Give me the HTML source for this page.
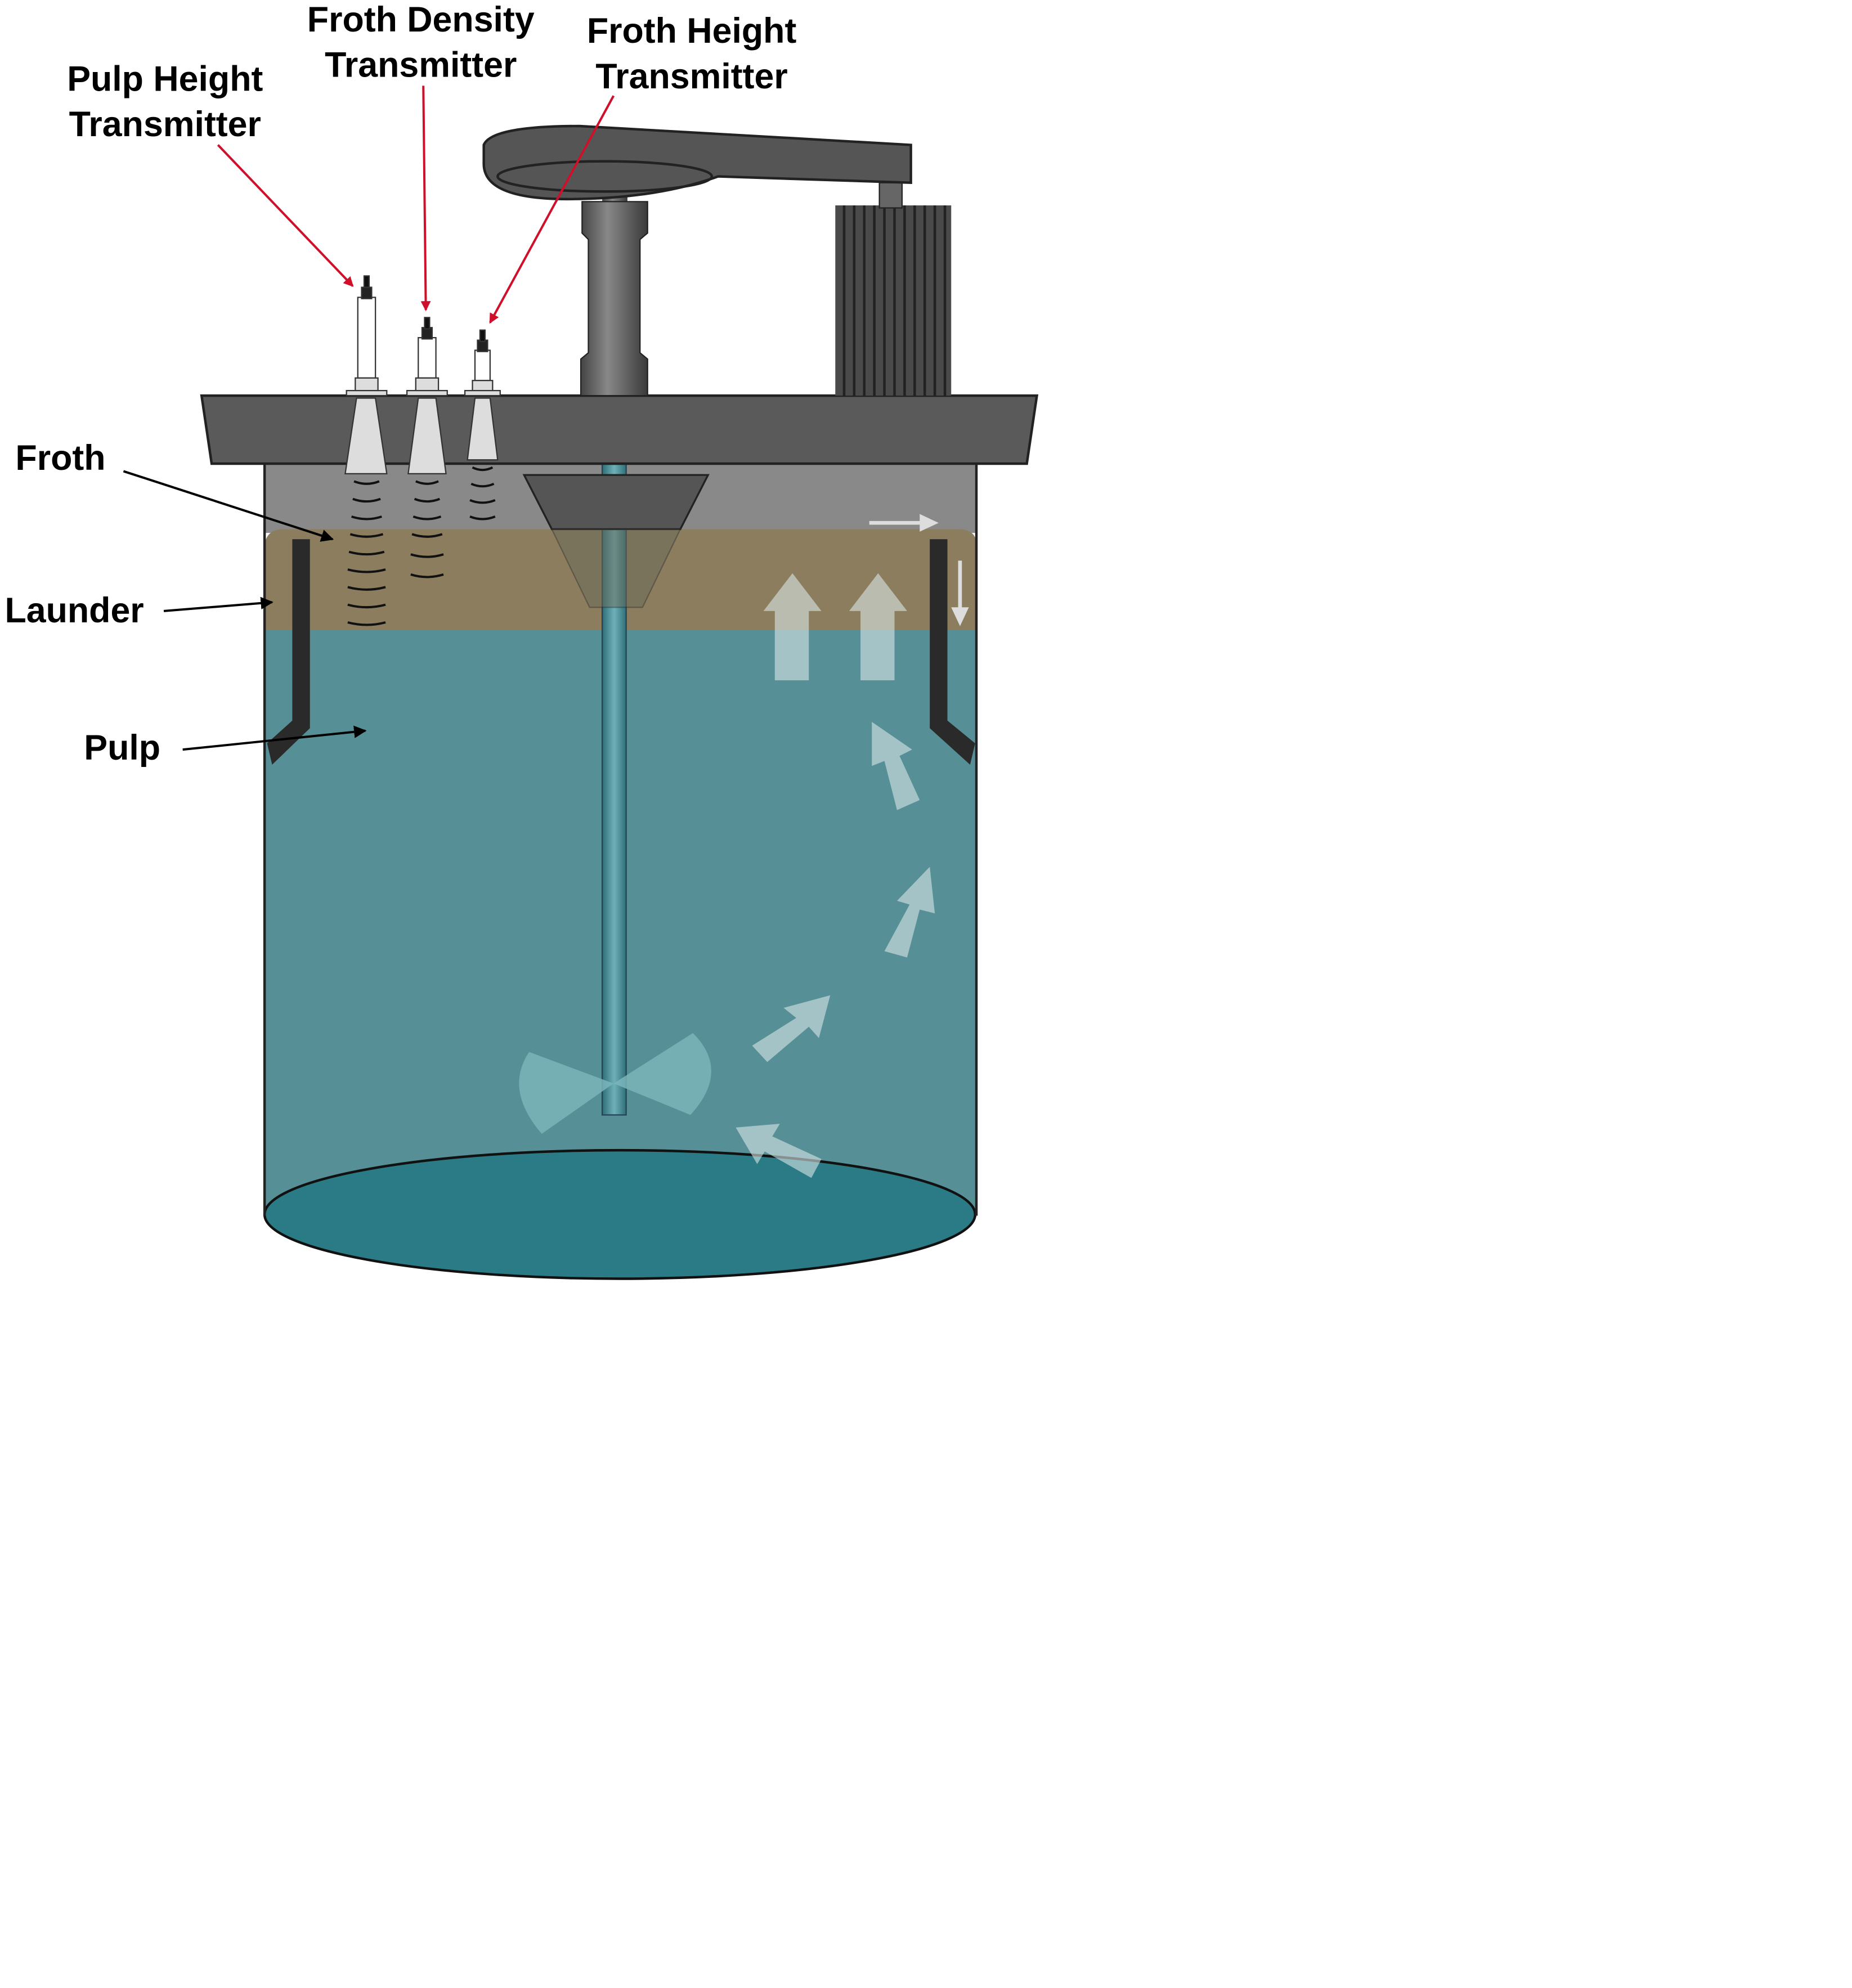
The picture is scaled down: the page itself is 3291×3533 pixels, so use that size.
<!DOCTYPE html>
<html><head><style>html,body{margin:0;padding:0;background:#fff}svg{display:block}</style></head><body>
<svg width="3291" height="3533" viewBox="0 0 1470 1578" xmlns="http://www.w3.org/2000/svg" font-family="Liberation Sans, sans-serif">
<defs>
<marker id="rh" markerWidth="8" markerHeight="8" refX="7" refY="4" orient="auto" markerUnits="userSpaceOnUse"><path d="M0,0 L8,4 L0,8 z" fill="#d0102a"/></marker>
<marker id="bh" markerWidth="10" markerHeight="10" refX="9" refY="5" orient="auto" markerUnits="userSpaceOnUse"><path d="M0,0 L10,5 L0,10 z" fill="#000"/></marker>
<linearGradient id="col" x1="0" x2="1"><stop offset="0" stop-color="#444"/><stop offset="0.4" stop-color="#888"/><stop offset="1" stop-color="#3a3a3a"/></linearGradient>
<linearGradient id="sh" x1="0" x2="1"><stop offset="0" stop-color="#2f6f78"/><stop offset="0.5" stop-color="#6fb0b8"/><stop offset="1" stop-color="#2f6f78"/></linearGradient>
</defs>
<rect x="210" y="368" width="565" height="55" fill="#898989"/>
<path d="M210,432 Q212,420 225,420 L760,420 Q775,420 775,432 L775,502 L210,502 Z" fill="#8b7d5e"/>
<rect x="210" y="500" width="565" height="466" fill="#568f96"/>
<ellipse cx="492" cy="964" rx="282" ry="51" fill="#2a7b85" stroke="#111" stroke-width="2"/>
<line x1="210" y1="368" x2="210" y2="965" stroke="#222" stroke-width="2"/>
<line x1="775" y1="368" x2="775" y2="965" stroke="#222" stroke-width="2"/>
<path d="M232,428 L246,428 L246,578 L216,607 L212,590 L232,572 Z" fill="#2a2a2a"/>
<path d="M752,428 L738,428 L738,578 L770,607 L774,590 L752,572 Z" fill="#2a2a2a"/>
<rect x="478" y="368" width="19" height="517" fill="url(#sh)" stroke="#245" stroke-width="1"/>
<polygon points="416,377 562,377 540,420 438,420" fill="#555" stroke="#222" stroke-width="1.5"/>
<polygon points="438,420 540,420 510,482 468,482" fill="#6a6a5a" opacity="0.5" stroke="#333" stroke-width="1"/>
<path d="M487,860 L420,835 Q400,865 430,900 Z" fill="#7ab5ba" opacity="0.85"/>
<path d="M487,860 L550,820 Q580,850 548,885 Z" fill="#7ab5ba" opacity="0.85"/>
<g fill="#d8e6e6" opacity="0.6">
<polygon points="615,540 642,540 642,485 652,485 629,455 606,485 615,485"/>
<polygon points="683,540 710,540 710,485 720,485 697,455 674,485 683,485"/>
<polygon points="712,643 730,635 714,600 724,595 692,573 692,608 702,604"/>
<polygon points="702,755 720,760 730,722 742,725 738,688 712,715 722,718"/>
<polygon points="597,830 609,843 642,815 650,824 659,790 622,800 632,808"/>
<polygon points="652,920 644,935 607,914 601,924 584,895 619,892 613,902"/>
</g>
<line x1="690" y1="415" x2="732" y2="415" stroke="#ddd" stroke-width="3"/><polygon points="730,408 745,415 730,422" fill="#ddd"/>
<line x1="762" y1="445" x2="762" y2="485" stroke="#ddd" stroke-width="3"/><polygon points="755,482 762,497 769,482" fill="#ddd"/>
<polygon points="160,314 823,314 815,368 168,368" fill="#5a5a5a" stroke="#222" stroke-width="2"/>
<rect x="663" y="163" width="92" height="151" fill="#4a4a4a"/>
<g stroke="#222" stroke-width="2"><line x1="670" y1="163" x2="670" y2="314"/><line x1="678" y1="163" x2="678" y2="314"/><line x1="686" y1="163" x2="686" y2="314"/><line x1="694" y1="163" x2="694" y2="314"/><line x1="702" y1="163" x2="702" y2="314"/><line x1="710" y1="163" x2="710" y2="314"/><line x1="718" y1="163" x2="718" y2="314"/><line x1="726" y1="163" x2="726" y2="314"/><line x1="734" y1="163" x2="734" y2="314"/><line x1="742" y1="163" x2="742" y2="314"/><line x1="750" y1="163" x2="750" y2="314"/></g>
<rect x="698" y="145" width="18" height="20" fill="#666" stroke="#222"/>
<rect x="478" y="140" width="20" height="20" fill="url(#col)"/>
<path d="M462,160 L514,160 L514,185 L508,190 L508,280 L514,285 L514,314 L461,314 L461,285 L467,280 L467,190 L462,185 Z" fill="url(#col)" stroke="#222" stroke-width="1"/>
<path d="M384,115 Q390,100 460,100 L723,115 L723,145 L570,140 Q520,158 450,158 Q384,158 384,130 Z" fill="#555" stroke="#222" stroke-width="2"/>
<ellipse cx="480" cy="140" rx="85" ry="12" fill="none" stroke="#222" stroke-width="2"/>
<g stroke="#333" stroke-width="1">
<polygon points="283,316 298,316 307,376 274,376" fill="#ddd"/>
<rect x="284" y="236" width="14" height="64" fill="#fff"/><rect x="282" y="300" width="18" height="10" fill="#ddd"/><rect x="275" y="310" width="32" height="4" fill="#ddd"/>
<rect x="287" y="228" width="8" height="9" fill="#222"/><rect x="289" y="219" width="4" height="9" fill="#111"/>
<polygon points="332,316 346,316 354,376 324,376" fill="#ddd"/>
<rect x="332" y="268" width="14" height="32" fill="#fff"/><rect x="330" y="300" width="18" height="10" fill="#ddd"/><rect x="323" y="310" width="32" height="4" fill="#ddd"/>
<rect x="335" y="260" width="8" height="9" fill="#222"/><rect x="337" y="252" width="4" height="9" fill="#111"/>
<polygon points="377,316 389,316 395,365 371,365" fill="#ddd"/>
<rect x="377" y="278" width="12" height="24" fill="#fff"/><rect x="375" y="302" width="16" height="8" fill="#ddd"/><rect x="369" y="310" width="28" height="4" fill="#ddd"/>
<rect x="379" y="270" width="8" height="9" fill="#222"/><rect x="381" y="262" width="4" height="9" fill="#111"/>
</g>
<g fill="none" stroke="#111" stroke-width="1.8">
<path d="M281,382 q10,4 20,0 M280,396 q11,4 22,0 M279,410 q12,4 24,0 M278,424 q13,4 26,0 M277,438 q14,4 28,0 M276,452 q15,4 30,0 M276,466 q15,4 30,0 M276,480 q15,4 30,0 M276,494 q15,4 30,0"/>
<path d="M330,382 q9,4 18,0 M329,396 q10,4 20,0 M328,410 q11,4 22,0 M327,424 q12,4 24,0 M326,440 q13,4 26,0 M326,456 q13,4 26,0"/>
<path d="M375,371 q8,4 16,0 M374,384 q9,4 18,0 M373,397 q10,4 20,0 M373,410 q10,4 20,0"/>
</g>
<g font-weight="bold" font-size="28" fill="#000" text-anchor="middle">
<text x="131" y="72">Pulp Height</text><text x="131" y="108">Transmitter</text>
<text x="334" y="25">Froth Density</text><text x="334" y="61">Transmitter</text>
<text x="549" y="34">Froth Height</text><text x="549" y="70">Transmitter</text>
<text x="48" y="373">Froth</text>
<text x="59" y="494">Launder</text>
<text x="97" y="603">Pulp</text>
</g>
<g stroke="#d0102a" stroke-width="1.8">
<line x1="173" y1="115" x2="280" y2="227" marker-end="url(#rh)"/>
<line x1="336" y1="68" x2="338" y2="246" marker-end="url(#rh)"/>
<line x1="487" y1="76" x2="389" y2="256" marker-end="url(#rh)"/>
</g>
<g stroke="#000" stroke-width="1.8">
<line x1="98" y1="374" x2="264" y2="428" marker-end="url(#bh)"/>
<line x1="130" y1="485" x2="216" y2="478" marker-end="url(#bh)"/>
<line x1="145" y1="595" x2="290" y2="580" marker-end="url(#bh)"/>
</g>
</svg>
</body></html>
